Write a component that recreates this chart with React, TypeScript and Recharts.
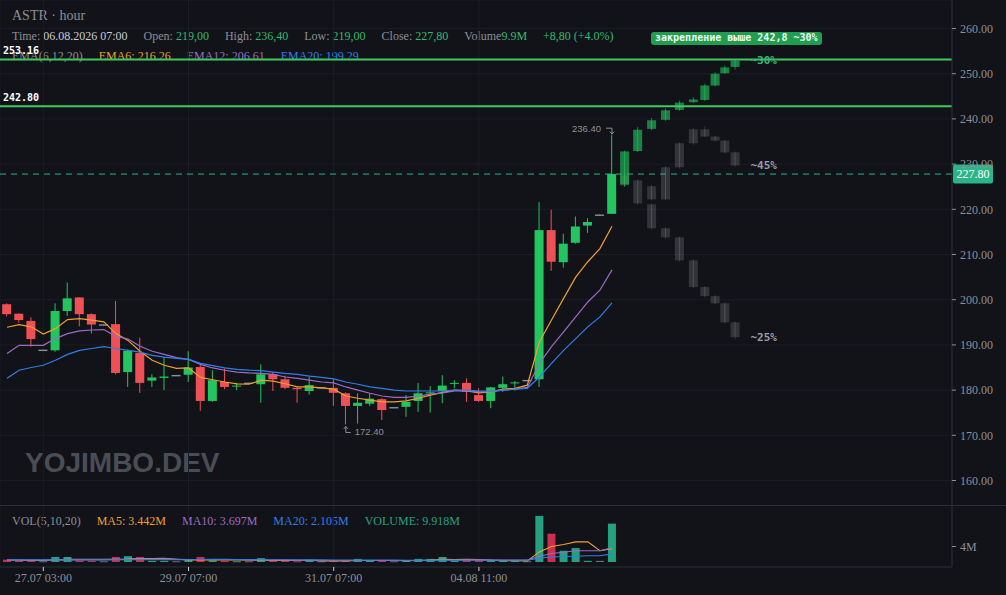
import React from 'react';
import {
  ComposedChart,
  Bar,
  Line,
  XAxis,
  YAxis,
  CartesianGrid,
  ReferenceLine,
  ReferenceDot,
} from 'recharts';

// ---------------- data ----------------
const candleOpen = [199.0,196.9,195.3,188.8,188.8,197.5,200.5,196.8,194.4,194.6,184.0,188.2,182.1,182.7,183.2,183.4,185.1,177.6,181.8,180.8,181.5,181.3,183.5,182.4,180.5,179.8,180.5,180.5,179.3,176.5,177.0,178.0,176.1,176.3,177.6,179.3,179.8,181.4,181.6,178.9,177.6,180.5,181.5,182.1,182.4,215.4,208.3,212.6,216.4,218.7,219.0];
const candleHigh = [199.2,197.0,196.1,188.9,199.2,203.8,200.6,197.0,194.5,199.7,189.0,191.6,183.5,187.3,183.3,188.6,185.9,184.4,184.8,181.6,181.6,185.7,184.0,183.2,180.6,182.9,180.6,182.4,179.5,179.3,179.3,178.2,176.2,178.9,181.6,180.9,183.3,182.2,182.6,180.4,180.7,183.0,182.0,182.2,221.6,219.9,214.6,218.4,218.0,218.8,236.4];
const candleLow = [196.3,194.9,189.6,188.7,188.5,196.4,194.1,192.5,194.3,183.5,180.7,179.4,180.7,180.0,183.1,181.8,175.4,177.4,180.2,180.0,181.4,177.2,179.8,180.2,177.2,179.0,180.4,176.5,172.4,172.6,176.5,173.4,176.0,174.1,175.2,175.0,177.1,180.4,177.4,177.4,176.0,179.6,179.9,182.0,180.7,206.4,207.1,212.4,214.8,218.6,219.0];
const candleClose = [196.8,195.5,191.3,188.8,197.5,200.3,196.8,194.5,194.4,183.8,188.7,181.6,182.8,183.0,183.2,185.0,177.6,182.2,180.7,181.0,181.5,183.5,182.4,180.5,180.2,181.1,180.5,179.4,176.5,177.2,178.1,175.6,176.1,177.4,179.3,179.5,181.0,181.6,179.6,177.6,180.6,181.3,181.7,182.1,215.4,208.4,212.4,216.2,217.2,218.7,227.8];

const ema6 = [193.9,194.5,194.0,192.4,193.6,195.6,195.8,195.5,195.1,192.5,191.0,188.6,186.6,185.5,184.8,184.9,182.8,182.3,181.8,181.4,181.3,182.2,182.0,181.4,180.7,180.7,180.5,180.2,178.7,178.2,177.8,177.4,177.4,177.6,178.2,178.9,179.5,180.0,179.8,179.4,179.6,180.2,180.4,181.1,190.7,195.5,200.3,205.0,208.4,211.3,216.26];
const ema12 = [188.1,189.9,189.9,189.9,191.4,192.5,193.1,193.3,193.4,191.9,191.3,189.7,188.6,187.9,187.2,186.8,185.7,184.9,184.4,184.0,183.8,183.7,183.5,182.9,182.6,182.2,181.8,181.6,180.7,180.0,179.3,178.7,178.4,178.4,178.7,179.1,179.4,179.8,179.8,179.6,179.6,180.0,180.2,180.6,185.9,189.6,192.9,196.2,199.5,202.1,206.61];
const ema20 = [182.6,184.4,185.0,185.5,186.6,187.9,188.8,189.2,189.6,189.2,188.8,188.4,187.7,187.3,187.0,186.8,185.9,185.4,184.9,184.6,184.4,184.3,184.0,183.7,183.5,183.1,182.8,182.5,181.8,181.3,180.7,180.4,180.0,179.8,179.8,179.8,179.8,180.0,180.0,179.8,179.8,180.0,180.2,180.4,182.9,185.9,188.8,191.4,194.0,196.2,199.29];

const volumeM = [0.6,0.3,0.4,0.2,1.3,1.3,0.4,0.3,0.2,1.3,1.5,1.3,0.3,0.3,0.2,0.5,1.3,0.4,0.3,0.2,0.2,1.0,0.4,0.3,0.2,0.3,0.2,0.3,0.4,0.8,0.3,0.3,0.2,0.4,0.8,0.8,1.3,0.3,0.4,0.4,0.4,0.3,0.3,0.2,11.9,7.3,2.9,3.6,0.3,0.3,9.9];
const volMa5 = [0.5,0.45,0.4,0.4,0.55,0.7,0.7,0.7,0.7,0.7,0.75,0.9,0.9,0.95,0.7,0.5,0.5,0.55,0.55,0.55,0.5,0.45,0.4,0.4,0.4,0.45,0.3,0.25,0.3,0.4,0.4,0.4,0.4,0.35,0.4,0.5,0.7,0.65,0.7,0.65,0.45,0.35,0.35,0.3,2.6,4.0,4.5,5.2,5.2,2.9,3.44];
const volMa10 = [0.5,0.5,0.5,0.5,0.5,0.55,0.6,0.6,0.6,0.65,0.7,0.75,0.75,0.8,0.7,0.65,0.65,0.7,0.7,0.65,0.55,0.5,0.5,0.5,0.45,0.45,0.4,0.4,0.4,0.4,0.4,0.4,0.4,0.4,0.4,0.45,0.5,0.5,0.55,0.55,0.55,0.5,0.5,0.5,1.5,2.2,2.5,2.9,2.9,2.9,3.7];
const volMa20 = [0.55,0.55,0.55,0.55,0.55,0.55,0.55,0.55,0.55,0.6,0.6,0.6,0.6,0.6,0.6,0.6,0.65,0.65,0.65,0.65,0.65,0.6,0.6,0.6,0.55,0.55,0.55,0.5,0.5,0.5,0.5,0.5,0.5,0.45,0.45,0.45,0.45,0.45,0.45,0.45,0.45,0.45,0.45,0.45,1.0,1.3,1.4,1.5,1.6,1.6,2.1];

// projected scenario candles: [open, high, low, close]
const projSlots = [51.07, 52.15, 53.3, 54.45, 55.6, 56.75, 57.7, 58.55, 59.35, 60.2];
const projUp = [
  [225.5, 233.0, 225.0, 232.8],
  [232.9, 238.2, 232.7, 237.6],
  [237.8, 240.2, 237.5, 239.7],
  [239.8, 242.3, 239.6, 241.9],
  [242.0, 244.0, 241.8, 243.6],
  [243.7, 244.8, 243.5, 244.3],
  [244.2, 247.8, 244.0, 247.4],
  [247.4, 250.3, 247.2, 250.0],
  [250.1, 251.8, 250.0, 251.4],
  [251.5, 253.2, 250.9, 252.9],
];
const projMid = [
  [227.5, 227.8, 225.0, 225.3],
  [226.4, 226.6, 221.0, 221.3],
  [222.2, 225.4, 222.0, 225.1],
  [222.2, 229.6, 222.0, 229.3],
  [229.3, 234.9, 229.0, 234.6],
  [234.6, 238.0, 234.3, 237.7],
  [237.7, 238.4, 236.0, 236.1],
  [236.1, 236.3, 235.0, 235.2],
  [235.2, 235.4, 232.3, 232.6],
  [232.6, 232.8, 229.4, 229.7],
];
const projDownStart = 2;
const projDown = [
  [221.1, 221.3, 215.5, 215.8],
  [215.8, 216.0, 213.5, 213.8],
  [213.8, 214.0, 208.4, 208.7],
  [208.7, 209.0, 202.5, 202.8],
  [202.8, 203.0, 200.5, 200.8],
  [200.8, 201.0, 199.0, 199.2],
  [199.2, 199.4, 194.7, 195.0],
  [195.0, 195.2, 191.2, 191.7],
];

const levelTop = 253.16;
const levelMid = 242.8;
const lastClose = 227.8;
const scenarioLabels = ['~30%', '~45%', '~25%'];
const noteText = 'закрепление выше 242,8 ~30%';

const xTickPositions = [3, 15, 27, 39];
const xTickLabels = ['27.07 03:00', '29.07 07:00', '31.07 07:00', '04.08 11:00'];
const priceTicks = [160, 170, 180, 190, 200, 210, 220, 230, 240, 250, 260];
const volumeTicks = [4];

// ---------------- style ----------------
const W = 1006;
const H = 595;
const PRICE_H = 506;
const VOL_H = H - PRICE_H;
const AXIS_W = 54;
const X_DOMAIN: [number, number] = [-0.58, 78.1];
const Y_DOMAIN: [number, number] = [154.36, 266.31];
const VOL_DOMAIN: [number, number] = [-1.29, 14.45];

const BG = '#121319';
const GRID = '#1b1d24';
const AXIS = '#2b2e37';
const TEXT = '#8b8f98';
const GREEN = '#22c55e';
const RED = '#ef5056';
const DOJI = '#8b8f98';
const PROJ_GREEN = 'rgba(34,197,94,0.62)';
const PROJ_GRAY = 'rgba(255,255,255,0.14)';
const EMA6_C = '#eea02e';
const EMA12_C = '#9c6bc8';
const EMA20_C = '#2f7fe6';
const LEVEL_C = '#3cc95f';
const LAST_C = '#2bb487';
const VOL_UP = '#26a17f';
const VOL_DOWN = '#c9304f';
const VAL_GREEN = '#35b872';
const FONT_SERIF = "'Liberation Serif', 'Times New Roman', serif";
const FONT_MONO = "'DejaVu Sans Mono', 'Liberation Mono', monospace";
const FONT_SANS = "'Liberation Sans', Arial, sans-serif";

type Ohlc = { o: number; h: number; l: number; c: number };
const toOhlc = (a: number[]): Ohlc => ({ o: a[0], h: a[1], l: a[2], c: a[3] });

// ---------------- rows ----------------
const priceRows: any[] = [];
candleOpen.forEach((o, i) => {
  const real = { o, h: candleHigh[i], l: candleLow[i], c: candleClose[i] };
  priceRows.push({
    t: i,
    real,
    range: [real.l, real.h],
    ema6: ema6[i],
    ema12: ema12[i],
    ema20: ema20[i],
  });
});
projSlots.forEach((t, k) => {
  const up = toOhlc(projUp[k]);
  const mid = toOhlc(projMid[k]);
  const down = k >= projDownStart ? toOhlc(projDown[k - projDownStart]) : null;
  const all = [up, mid, down].filter(Boolean) as Ohlc[];
  const lo = Math.min(...all.map((c) => c.l));
  const hi = Math.max(...all.map((c) => c.h));
  priceRows.push({ t, up, mid, down, range: [lo, hi] });
});

const volRows = volumeM.map((v, i) => ({
  t: i,
  vol: v,
  dir: candleClose[i] > candleOpen[i] ? 'up' : candleClose[i] < candleOpen[i] ? 'down' : 'flat',
  ma5: volMa5[i],
  ma10: volMa10[i],
  ma20: volMa20[i],
}));

// ---------------- shapes ----------------
const BODY_W = 9;

const CandleShape = (props: any) => {
  const { x, y, width, height, payload } = props;
  if (!payload || !isFinite(x) || !isFinite(y) || !isFinite(height)) return null;
  const [lo, hi] = payload.range;
  const cx = x + width / 2;
  const span = hi - lo || 1;
  const toY = (v: number) => y + ((hi - v) / span) * height;
  const draw = (c: Ohlc, color: string, key: string) => {
    const top = toY(Math.max(c.o, c.c));
    const bot = toY(Math.min(c.o, c.c));
    const flat = c.o === c.c;
    return (
      <g key={key}>
        <line x1={cx} x2={cx} y1={toY(c.h)} y2={toY(c.l)} stroke={color} strokeWidth={1} />
        {flat ? (
          <line x1={cx - BODY_W / 2} x2={cx + BODY_W / 2} y1={top} y2={top} stroke={color} strokeWidth={1.4} />
        ) : (
          <rect x={cx - BODY_W / 2} y={top} width={BODY_W} height={Math.max(1, bot - top)} fill={color} />
        )}
      </g>
    );
  };
  const parts: any[] = [];
  if (payload.down) parts.push(draw(payload.down, PROJ_GRAY, 'd'));
  if (payload.mid) parts.push(draw(payload.mid, PROJ_GRAY, 'm'));
  if (payload.up) parts.push(draw(payload.up, PROJ_GREEN, 'u'));
  if (payload.real) {
    const r = payload.real as Ohlc;
    const col = r.c > r.o ? GREEN : r.c < r.o ? RED : DOJI;
    parts.push(draw(r, col, 'r'));
  }
  return <g>{parts}</g>;
};

const VolumeShape = (props: any) => {
  const { x, y, width, height, payload } = props;
  if (!payload || !isFinite(y) || !isFinite(height)) return null;
  const col = payload.dir === 'up' ? VOL_UP : payload.dir === 'down' ? VOL_DOWN : '#6b6e76';
  return <rect x={x} y={y} width={width} height={Math.max(1, height)} fill={col} />;
};

const LevelLabel = (props: any) => {
  const vb = props.viewBox || {};
  return (
    <text
      x={(vb.x || 0) + 3}
      y={(vb.y || 0) - 5.5}
      fill="#ffffff"
      fontSize={10}
      fontWeight="bold"
      fontFamily={FONT_MONO}
    >
      {props.text}
    </text>
  );
};

const LastPriceTag = (props: any) => {
  const vb = props.viewBox || {};
  const right = (vb.x || 0) + (vb.width || 0);
  const yy = vb.y || 0;
  return (
    <g>
      <rect x={right + 1} y={yy - 9.5} width={40} height={19} rx={2} fill={LAST_C} />
      <text
        x={right + 21}
        y={yy}
        textAnchor="middle"
        dominantBaseline="central"
        fill="#ffffff"
        fontSize={12}
        fontFamily={FONT_SERIF}
      >
        {lastClose.toFixed(2)}
      </text>
    </g>
  );
};

const HighMarker = (props: any) => {
  const { cx, cy } = props;
  return (
    <g>
      <text x={cx - 11} y={cy - 7} textAnchor="end" dominantBaseline="central" fill={TEXT} fontSize={9.5} fontFamily={FONT_SANS}>
        {candleHigh[candleHigh.length - 1].toFixed(2)}
      </text>
      <path d={`M${cx - 6},${cy - 7} H${cx} V${cy - 1}`} stroke={TEXT} fill="none" strokeWidth={1} />
      <path d={`M${cx - 2},${cy - 3.5} L${cx},${cy - 1} L${cx + 2},${cy - 3.5}`} stroke={TEXT} fill="none" strokeWidth={1} />
    </g>
  );
};

const LowMarker = (props: any) => {
  const { cx, cy } = props;
  return (
    <g>
      <path d={`M${cx},${cy + 2} V${cy + 8} H${cx + 5}`} stroke={TEXT} fill="none" strokeWidth={1} />
      <path d={`M${cx - 2},${cy + 4.5} L${cx},${cy + 2} L${cx + 2},${cy + 4.5}`} stroke={TEXT} fill="none" strokeWidth={1} />
      <text x={cx + 9} y={cy + 7} dominantBaseline="central" fill={TEXT} fontSize={9.5} fontFamily={FONT_SANS}>
        {Math.min(...candleLow).toFixed(2)}
      </text>
    </g>
  );
};

const makeScenarioLabel = (text: string, color: string) => (props: any) => {
  const { cx, cy } = props;
  return (
    <text x={cx + 15} y={cy} dominantBaseline="central" fill={color} fontSize={11} fontWeight="bold" fontFamily={FONT_MONO}>
      {text}
    </text>
  );
};

const xLabel = (v: number) => {
  const i = xTickPositions.indexOf(v);
  return i >= 0 ? xTickLabels[i] : '';
};

// ---------------- header pieces ----------------
const sp = { marginRight: 16 };
const lbl = { color: TEXT };

export default function App() {
  const lastIdx = candleOpen.length - 1;
  const lastK = projSlots.length - 1;
  return (
    <div
      style={{
        position: 'absolute',
        left: 0,
        top: 0,
        width: W,
        height: H,
        background: BG,
        overflow: 'hidden',
        fontFamily: FONT_SERIF,
      }}
    >
      {/* watermark */}
      <div
        style={{
          position: 'absolute',
          left: 25,
          top: 447,
          fontFamily: FONT_SANS,
          fontWeight: 'bold',
          fontSize: 28,
          lineHeight: '32px',
          color: '#4a4d55',
          whiteSpace: 'nowrap',
        }}
      >
        YOJIMBO.DEV
      </div>

      {/* header */}
      <div style={{ position: 'absolute', left: 12, top: 8, fontSize: 14, lineHeight: '16px', color: TEXT, whiteSpace: 'nowrap' }}>
        ASTR · hour
      </div>
      <div style={{ position: 'absolute', left: 12, top: 29, fontSize: 12, lineHeight: '14px', whiteSpace: 'nowrap' }}>
        <span style={sp}>
          <span style={lbl}>Time: </span>
          <span style={{ color: '#c9ccd3' }}>06.08.2026 07:00</span>
        </span>
        <span style={sp}>
          <span style={lbl}>Open: </span>
          <span style={{ color: VAL_GREEN }}>219,00</span>
        </span>
        <span style={sp}>
          <span style={lbl}>High: </span>
          <span style={{ color: VAL_GREEN }}>236,40</span>
        </span>
        <span style={sp}>
          <span style={lbl}>Low: </span>
          <span style={{ color: VAL_GREEN }}>219,00</span>
        </span>
        <span style={sp}>
          <span style={lbl}>Close: </span>
          <span style={{ color: VAL_GREEN }}>227,80</span>
        </span>
        <span style={sp}>
          <span style={lbl}>Volume</span>
          <span style={{ color: VAL_GREEN }}>9.9M</span>
        </span>
        <span style={{ color: VAL_GREEN }}>+8,80 (+4.0%)</span>
      </div>
      <div style={{ position: 'absolute', left: 12, top: 49, fontSize: 12, lineHeight: '14px', whiteSpace: 'nowrap' }}>
        <span style={{ ...sp, color: TEXT }}>EMA(6,12,20)</span>
        <span style={{ ...sp, color: EMA6_C }}>EMA6: {ema6[lastIdx].toFixed(2)}</span>
        <span style={{ ...sp, color: EMA12_C }}>EMA12: {ema12[lastIdx].toFixed(2)}</span>
        <span style={{ ...sp, color: EMA20_C }}>EMA20: {ema20[lastIdx].toFixed(2)}</span>
      </div>
      <div style={{ position: 'absolute', left: 12, top: 514, fontSize: 12, lineHeight: '14px', whiteSpace: 'nowrap' }}>
        <span style={{ ...sp, color: TEXT }}>VOL(5,10,20)</span>
        <span style={{ ...sp, color: EMA6_C }}>MA5: 3.442M</span>
        <span style={{ ...sp, color: EMA12_C }}>MA10: 3.697M</span>
        <span style={{ ...sp, color: EMA20_C }}>MA20: 2.105M</span>
        <span style={{ ...sp, color: VOL_UP }}>VOLUME: 9.918M</span>
      </div>

      {/* price pane */}
      <div style={{ position: 'absolute', left: 0, top: 0 }}>
        <ComposedChart width={W} height={PRICE_H} data={priceRows} margin={{ top: 0, right: 0, bottom: 0, left: 0 }}>
          <CartesianGrid stroke={GRID} />
          <XAxis dataKey="t" type="number" domain={X_DOMAIN} allowDataOverflow ticks={xTickPositions} hide />
          <YAxis
            orientation="right"
            width={AXIS_W}
            domain={Y_DOMAIN}
            allowDataOverflow
            ticks={priceTicks}
            interval={0}
            tickFormatter={(v: number) => v.toFixed(2)}
            tick={{ fill: TEXT, fontSize: 12, fontFamily: FONT_SERIF }}
            tickLine={{ stroke: TEXT }}
            tickSize={4}
            tickMargin={4}
            axisLine={{ stroke: AXIS }}
          />
          <ReferenceLine y={levelTop} stroke={LEVEL_C} strokeWidth={2} label={<LevelLabel text={levelTop.toFixed(2)} />} />
          <ReferenceLine y={levelMid} stroke={LEVEL_C} strokeWidth={2} label={<LevelLabel text={levelMid.toFixed(2)} />} />
          <ReferenceLine y={lastClose} stroke={LAST_C} strokeWidth={1} strokeDasharray="6 5" label={<LastPriceTag />} />
          <Bar dataKey="range" barSize={9} shape={CandleShape} isAnimationActive={false} />
          <Line dataKey="ema6" stroke={EMA6_C} strokeWidth={1.2} dot={false} activeDot={false} isAnimationActive={false} />
          <Line dataKey="ema12" stroke={EMA12_C} strokeWidth={1.2} dot={false} activeDot={false} isAnimationActive={false} />
          <Line dataKey="ema20" stroke={EMA20_C} strokeWidth={1.2} dot={false} activeDot={false} isAnimationActive={false} />
          <ReferenceDot x={lastIdx} y={candleHigh[lastIdx]} r={0} ifOverflow="visible" shape={HighMarker} />
          <ReferenceDot x={candleLow.indexOf(Math.min(...candleLow))} y={Math.min(...candleLow)} r={0} ifOverflow="visible" shape={LowMarker} />
          <ReferenceDot x={projSlots[lastK]} y={projUp[lastK][3]} r={0} ifOverflow="visible" shape={makeScenarioLabel(scenarioLabels[0], VAL_GREEN)} />
          <ReferenceDot x={projSlots[lastK]} y={projMid[lastK][3]} r={0} ifOverflow="visible" shape={makeScenarioLabel(scenarioLabels[1], '#9a9da5')} />
          <ReferenceDot x={projSlots[lastK]} y={projDown[projDown.length - 1][3]} r={0} ifOverflow="visible" shape={makeScenarioLabel(scenarioLabels[2], '#9a9da5')} />
        </ComposedChart>
      </div>

      {/* pane separator */}
      <div style={{ position: 'absolute', left: 0, top: PRICE_H - 1, width: W, height: 1, background: AXIS }} />

      {/* volume pane */}
      <div style={{ position: 'absolute', left: 0, top: PRICE_H }}>
        <ComposedChart width={W} height={VOL_H} data={volRows} margin={{ top: 0, right: 0, bottom: 0, left: 0 }}>
          <CartesianGrid stroke={GRID} horizontal={false} />
          <XAxis
            dataKey="t"
            type="number"
            domain={X_DOMAIN}
            allowDataOverflow
            ticks={xTickPositions}
            interval={0}
            tickFormatter={xLabel}
            height={28}
            tick={{ fill: TEXT, fontSize: 12, fontFamily: FONT_SERIF }}
            tickLine={{ stroke: '#cfd1d6' }}
            tickSize={4}
            axisLine={{ stroke: AXIS }}
          />
          <YAxis
            orientation="right"
            width={AXIS_W}
            domain={VOL_DOMAIN}
            allowDataOverflow
            ticks={volumeTicks}
            interval={0}
            tickFormatter={(v: number) => `${v}M`}
            tick={{ fill: TEXT, fontSize: 12, fontFamily: FONT_SERIF }}
            tickLine={{ stroke: TEXT }}
            tickSize={4}
            tickMargin={4}
            axisLine={{ stroke: AXIS }}
          />
          <Bar dataKey="vol" barSize={8} shape={VolumeShape} isAnimationActive={false} />
          <Line dataKey="ma5" stroke={EMA6_C} strokeWidth={1.1} dot={false} activeDot={false} isAnimationActive={false} />
          <Line dataKey="ma10" stroke={EMA12_C} strokeWidth={1.1} dot={false} activeDot={false} isAnimationActive={false} />
          <Line dataKey="ma20" stroke={EMA20_C} strokeWidth={1.1} dot={false} activeDot={false} isAnimationActive={false} />
        </ComposedChart>
      </div>

      {/* note tag */}
      <div
        style={{
          position: 'absolute',
          left: 651,
          top: 32,
          height: 12.5,
          padding: '0 4px',
          background: '#1f9e4f',
          borderRadius: 3,
          color: '#eef8f1',
          fontFamily: FONT_MONO,
          fontWeight: 'bold',
          fontSize: 10,
          lineHeight: '12.5px',
          whiteSpace: 'nowrap',
        }}
      >
        {noteText}
      </div>
    </div>
  );
}
